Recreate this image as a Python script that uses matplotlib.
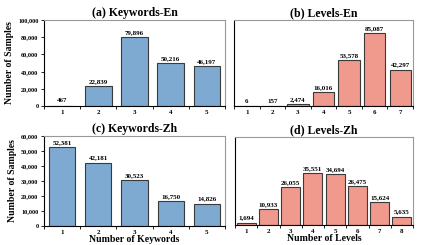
import matplotlib
matplotlib.use("Agg")
import matplotlib.pyplot as plt
import numpy as np
from matplotlib.ticker import FuncFormatter, FixedLocator, NullFormatter

kw_en_cats = [1, 2, 3, 4, 5]
kw_en_vals = [467, 22839, 79896, 50216, 46197]
lv_en_cats = [1, 2, 3, 4, 5, 6, 7]
lv_en_vals = [6, 157, 2474, 16016, 53578, 85087, 42297]
kw_zh_cats = [1, 2, 3, 4, 5]
kw_zh_vals = [52381, 42181, 30523, 16750, 14826]
lv_zh_cats = [1, 2, 3, 4, 5, 6, 7, 8]
lv_zh_vals = [1694, 10933, 26055, 35551, 34694, 26475, 15624, 5635]

titles = ["(a) Keywords-En", "(b) Levels-En", "(c) Keywords-Zh", "(d) Levels-Zh"]

plt.rcParams['font.family'] = ['Liberation Serif', 'DejaVu Serif']
plt.rcParams['font.weight'] = 'bold'

W, H = 436, 245
fig = plt.figure(figsize=(W/100, H/100), dpi=100)

def rect(l, r, t, b):
    return [l/W, 1-b/H, (r-l)/W, (b-t)/H]

blue = '#7eaad2'
red = '#f09a8e'
edge = '#3a3a3a'

panels = [
    (rect(44, 225, 20, 106), kw_en_cats, kw_en_vals, blue, 100000, True, None, 0.74),
    (rect(234, 413, 20, 106), lv_en_cats, lv_en_vals, red, 100000, False, None, 0.83),
    (rect(44, 225, 136, 226), kw_zh_cats, kw_zh_vals, blue, 60000, True, "Number of Keywords", 0.72),
    (rect(235, 413, 137, 225), lv_zh_cats, lv_zh_vals, red, 60000, False, "Number of Levels", 0.85),
]

for (pos, cats, vals, col, ymax, ylab, xlab, bw), title in zip(panels, titles):
    ax = fig.add_axes(pos)
    x = np.arange(len(cats))
    ax.bar(x, vals, width=bw, color=col, edgecolor=edge, linewidth=0.8, zorder=2)
    ax.set_xlim(-0.5, len(cats) - 0.5)
    ax.set_ylim(0, ymax)
    for xi, v in zip(x, vals):
        ax.text(xi, v + ymax * 0.025, f"{v:,}", ha='center', va='bottom',
                fontsize=5, fontweight='bold')
    ax.set_xticks(x)
    ax.set_xticklabels([str(c) for c in cats], fontsize=5, fontweight='bold')
    ax.xaxis.set_minor_locator(FixedLocator(np.arange(-0.5, len(cats), 1.0)))
    ax.tick_params(axis='x', which='major', length=0, pad=3)
    ax.tick_params(axis='x', which='minor', length=2, width=0.6, direction='out')
    ax.set_title(title, fontsize=8.5, fontweight='bold', pad=3)
    for s in ['left', 'bottom']:
        ax.spines[s].set_color('black')
        ax.spines[s].set_linewidth(0.8)
    for s in ['top', 'right']:
        ax.spines[s].set_color('#999999')
        ax.spines[s].set_linewidth(0.8)
    if ylab:
        step = ymax // 5 if ymax == 100000 else 10000
        ax.set_yticks(np.arange(0, ymax + 1, step))
        ax.yaxis.set_major_formatter(FuncFormatter(lambda v, p: f"{int(v):,}"))
        ax.tick_params(axis='y', labelsize=4.5, length=2, width=0.6, pad=2)
        for lab in ax.get_yticklabels():
            lab.set_fontweight('bold')
        ax.set_ylabel("Number of Samples", fontsize=7, fontweight='bold', labelpad=3)
    else:
        ax.set_yticks([])
    if xlab:
        ax.set_xlabel(xlab, fontsize=7, fontweight='bold', labelpad=0)

fig.savefig("out.png", dpi=100)
